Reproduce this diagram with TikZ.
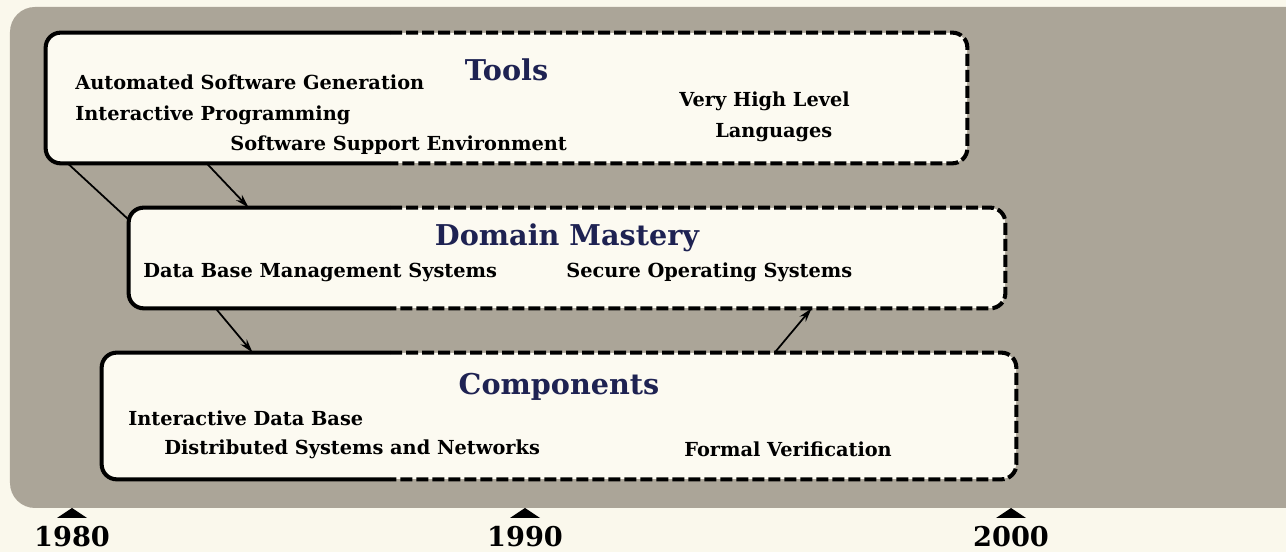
\documentclass[tikz,border=0pt]{standalone}
\usepackage{fontspec}
\setmainfont{DejaVu Serif}
\usetikzlibrary{calc,arrows.meta}
\definecolor{paper}{HTML}{FAF8EC}
\definecolor{panel}{HTML}{ABA598}
\definecolor{boxfill}{HTML}{FCFAF1}
\definecolor{navy}{HTML}{1E2252}
\tikzset{
  area/.style={fill=boxfill, draw=none, rounded corners=0.3cm, inner sep=0pt},
  solidline/.style={line width=2.3pt, rounded corners=0.3cm},
  dashline/.style={line width=2.3pt, rounded corners=0.3cm, dash pattern=on 0.24cm off 0.08cm},
  title/.style={font=\fontsize{16.3}{19}\selectfont\bfseries, text=navy},
  item/.style={font=\fontsize{11}{13}\selectfont\bfseries, anchor=west, inner sep=0pt},
  year/.style={font=\fontsize{15.5}{17}\selectfont\bfseries, inner sep=0pt},
  link/.style={line width=1pt, -{Stealth[length=0.28cm, width=0.16cm]}},
}
\begin{document}
\begin{tikzpicture}
  \useasboundingbox[fill=paper] (0,0) rectangle (25.72,11.04);
  % grey band
  \fill[panel, rounded corners=0.5cm] (25.72,10.9) -- (0.2,10.9) -- (0.2,0.88) -- (25.72,0.88);
  % the three areas
  \node[area, minimum width=18.42cm, minimum height=2.6cm] (tools) at (10.13,9.08) {};
  \node[area, minimum width=17.52cm, minimum height=2cm] (domain) at (11.34,5.88) {};
  \node[area, minimum width=18.28cm, minimum height=2.52cm] (comps) at (11.18,2.72) {};
  \coordinate (now) at (7.8,0);
  \foreach \b in {tools,domain,comps} {
    \draw[solidline] (now |- \b.north) -- (\b.north west) -- (\b.south west) -- (now |- \b.south);
    \draw[dashline] (now |- \b.north) -- (\b.north east) -- (\b.south east) -- (now |- \b.south);
  }
  % texts
  \node[title] (ttools) at (10.13,9.64) {Tools};
  \node[item] (asg) at (1.5,9.4) {Automated Software Generation};
  \node[item] (ip) at (1.5,8.74) {Interactive Programming};
  \node[item] (sse) at (4.6,8.14) {Software Support Environment};
  \node[item] (vhl) at (13.58,9.02) {Very High Level};
  \node[item] (lang) at (14.3,8.38) {Languages};
  \node[title] (tdomain) at (11.34,6.28) {Domain Mastery};
  \node[item] (dbms) at (2.86,5.6) {Data Base Management Systems};
  \node[item] (sos) at (11.32,5.6) {Secure Operating Systems};
  \node[title] (tcomps) at (11.18,3.3) {Components};
  \node[item] (idb) at (2.56,2.68) {Interactive Data Base};
  \node[item] (dsn) at (3.28,2.06) {Distributed Systems and Networks};
  \node[item] (fv) at (13.68,2.06) {Formal Verification};
  % connectors
  \draw[line width=1pt] ($(tools.south west)+(0.44,0)$) -- ($(domain.north west)+(0,-0.24)$);
  \draw[link] ($(tools.south west)+(3.22,0)$) -- ($(domain.north west)+(2.4,0)$);
  \draw[link] ($(domain.south west)+(1.74,0)$) -- ($(comps.north west)+(3.02,0)$);
  \draw[link] ($(comps.north west)+(13.46,0)$) -- ($(domain.south west)+(13.66,0)$);
  % time axis
  \foreach \x/\yr in {1.44/1980, 10.5/1990, 20.22/2000} {
    \fill (\x-0.3,0.68) -- (\x,0.88) -- (\x+0.3,0.68) -- cycle;
    \node[year] (y\yr) at (\x,0.3) {\yr};
  }
\end{tikzpicture}
\end{document}
